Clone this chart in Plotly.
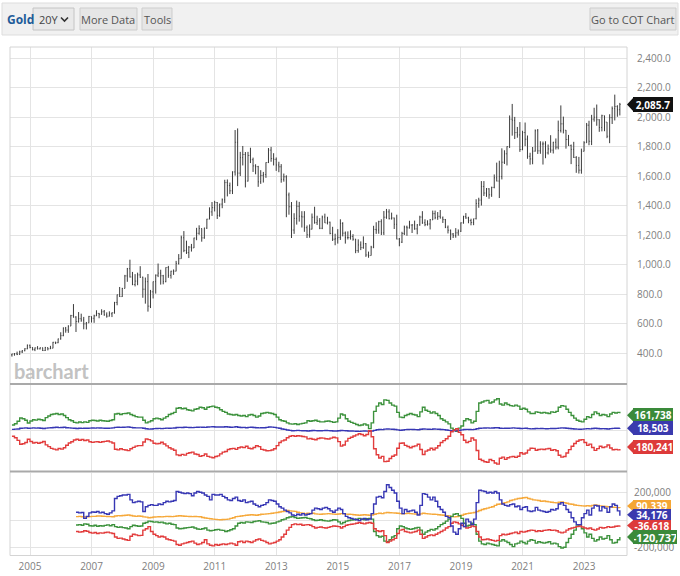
import plotly.graph_objects as go
import pandas as pd

# ---------------- data (monthly, first bar May 2004, last bar Feb 2024) ----------------
FIRST_MONTH = "2004-05-01"

OPEN = [
    388, 394, 395, 391, 408, 416, 429, 453,
    438, 423, 435, 429, 436, 417, 437, 429, 433, 473, 470, 496,
    518, 569, 556, 583, 654, 644, 614, 633, 624, 598, 605, 648,
    636, 652, 669, 663, 680, 659, 650, 666, 673, 743, 795, 783,
    838, 923, 972, 916, 865, 888, 930, 914, 833, 884, 718, 815,
    884, 928, 942, 924, 884, 980, 927, 955, 955, 1008, 1040, 1182,
    1096, 1081, 1118, 1113, 1180, 1212, 1244, 1181, 1247, 1308, 1357, 1386,
    1421, 1333, 1410, 1439, 1556, 1536, 1500, 1628, 1829, 1620, 1725, 1746,
    1566, 1740, 1711, 1669, 1664, 1561, 1604, 1610, 1692, 1776, 1719, 1713,
    1675, 1663, 1578, 1595, 1472, 1392, 1234, 1313, 1395, 1328, 1323, 1250,
    1202, 1240, 1321, 1284, 1296, 1246, 1322, 1282, 1287, 1211, 1172, 1175,
    1184, 1279, 1213, 1183, 1183, 1190, 1172, 1095, 1133, 1115, 1142, 1065,
    1061, 1118, 1238, 1234, 1291, 1215, 1321, 1357, 1311, 1316, 1273, 1173,
    1152, 1211, 1254, 1249, 1268, 1269, 1242, 1269, 1322, 1283, 1271, 1275,
    1303, 1345, 1318, 1327, 1316, 1305, 1253, 1233, 1207, 1196, 1215, 1226,
    1283, 1325, 1316, 1298, 1285, 1311, 1414, 1437, 1529, 1485, 1513, 1473,
    1523, 1588, 1566, 1596, 1694, 1751, 1800, 1986, 1978, 1895, 1879, 1780,
    1895, 1850, 1734, 1716, 1769, 1907, 1771, 1817, 1818, 1757, 1784, 1776,
    1829, 1796, 1909, 1954, 1911, 1848, 1807, 1781, 1726, 1672, 1640, 1768,
    1826, 1945, 1836, 1986, 1999, 1982, 1929, 2009, 1966, 1870, 1996, 2057,
    2072, 2050,
]
HIGH = [
    395, 400, 410, 416, 420, 433, 458, 457,
    440, 438, 447, 438, 437, 442, 438, 449, 476, 477, 498, 541,
    574, 577, 588, 659, 732, 650, 678, 667, 645, 611, 652, 649,
    660, 690, 672, 697, 692, 676, 683, 676, 747, 797, 848, 842,
    930, 977, 1033, 950, 935, 945, 989, 918, 912, 936, 828, 885,
    933, 1007, 965, 930, 981, 991, 958, 967, 1025, 1071, 1196, 1227,
    1162, 1126, 1140, 1182, 1249, 1266, 1245, 1250, 1310, 1388, 1424, 1432,
    1424, 1413, 1448, 1575, 1577, 1556, 1632, 1912, 1923, 1764, 1804, 1763,
    1764, 1792, 1725, 1680, 1669, 1640, 1628, 1693, 1790, 1798, 1755, 1726,
    1697, 1681, 1617, 1605, 1488, 1424, 1348, 1434, 1425, 1362, 1362, 1265,
    1272, 1346, 1392, 1331, 1315, 1332, 1345, 1324, 1291, 1256, 1209, 1240,
    1307, 1287, 1224, 1225, 1232, 1206, 1174, 1171, 1157, 1191, 1146, 1088,
    1127, 1263, 1287, 1297, 1307, 1363, 1377, 1375, 1352, 1318, 1338, 1180,
    1222, 1264, 1264, 1297, 1273, 1298, 1274, 1331, 1362, 1307, 1300, 1309,
    1366, 1366, 1356, 1370, 1326, 1309, 1265, 1237, 1214, 1247, 1238, 1286,
    1331, 1349, 1324, 1311, 1311, 1443, 1453, 1566, 1566, 1519, 1518, 1528,
    1611, 1691, 1704, 1788, 1775, 1802, 2011, 2089, 2001, 1933, 1966, 1907,
    1963, 1875, 1758, 1797, 1916, 1919, 1836, 1834, 1836, 1814, 1877, 1832,
    1855, 1976, 2079, 2003, 1912, 1879, 1814, 1832, 1735, 1730, 1786, 1836,
    1960, 1975, 2015, 2063, 2085, 1985, 2016, 2010, 1966, 2019, 2072, 2152,
    2080, 2096,
]
LOW = [
    376, 382, 386, 388, 400, 412, 426, 432,
    418, 413, 424, 424, 414, 414, 418, 427, 432, 461, 467, 491,
    514, 538, 537, 583, 640, 543, 606, 612, 561, 560, 605, 607,
    605, 651, 636, 660, 653, 640, 648, 644, 667, 724, 780, 781,
    838, 883, 912, 860, 852, 860, 910, 775, 735, 681, 705, 770,
    803, 915, 864, 866, 880, 910, 905, 930, 954, 1000, 1040, 1084,
    1072, 1044, 1088, 1112, 1165, 1202, 1155, 1175, 1242, 1307, 1330, 1360,
    1309, 1324, 1382, 1418, 1462, 1478, 1478, 1603, 1532, 1600, 1672, 1523,
    1563, 1688, 1628, 1612, 1527, 1547, 1556, 1588, 1688, 1697, 1672, 1635,
    1626, 1555, 1562, 1321, 1338, 1180, 1208, 1271, 1291, 1251, 1222, 1180,
    1182, 1238, 1277, 1268, 1240, 1240, 1282, 1272, 1205, 1160, 1131, 1142,
    1167, 1191, 1142, 1170, 1169, 1162, 1077, 1080, 1098, 1107, 1052, 1046,
    1061, 1111, 1208, 1209, 1200, 1200, 1310, 1306, 1305, 1241, 1171, 1124,
    1146, 1200, 1195, 1244, 1214, 1236, 1205, 1263, 1276, 1260, 1264, 1238,
    1302, 1307, 1303, 1312, 1282, 1247, 1211, 1167, 1180, 1182, 1196, 1221,
    1277, 1310, 1280, 1266, 1267, 1306, 1385, 1400, 1465, 1459, 1446, 1459,
    1517, 1564, 1451, 1577, 1682, 1672, 1790, 1874, 1851, 1860, 1764, 1775,
    1803, 1717, 1677, 1680, 1766, 1750, 1751, 1678, 1721, 1746, 1758, 1753,
    1780, 1781, 1895, 1889, 1786, 1805, 1681, 1723, 1622, 1617, 1616, 1767,
    1825, 1809, 1810, 1969, 1941, 1900, 1903, 1904, 1857, 1823, 1953, 1977,
    2002, 2011,
]
CLOSE = [
    394, 395, 391, 408, 416, 429, 453, 438,
    423, 435, 429, 436, 417, 437, 429, 433, 473, 470, 496, 518,
    569, 556, 583, 654, 644, 614, 633, 624, 598, 605, 648, 636,
    652, 669, 663, 680, 659, 650, 666, 673, 743, 795, 783, 838,
    923, 972, 916, 865, 888, 930, 914, 833, 884, 718, 815, 884,
    928, 942, 924, 884, 980, 927, 955, 955, 1008, 1040, 1182, 1096,
    1081, 1118, 1113, 1180, 1212, 1244, 1181, 1247, 1308, 1357, 1386, 1421,
    1333, 1410, 1439, 1556, 1536, 1500, 1628, 1829, 1620, 1725, 1746, 1566,
    1740, 1711, 1669, 1664, 1561, 1604, 1610, 1692, 1776, 1719, 1713, 1675,
    1663, 1578, 1595, 1472, 1392, 1234, 1313, 1395, 1328, 1323, 1250, 1202,
    1240, 1321, 1284, 1296, 1246, 1322, 1282, 1287, 1211, 1172, 1175, 1184,
    1279, 1213, 1183, 1183, 1190, 1172, 1095, 1133, 1115, 1142, 1065, 1061,
    1118, 1238, 1234, 1291, 1215, 1321, 1357, 1311, 1316, 1273, 1173, 1152,
    1211, 1254, 1249, 1268, 1269, 1242, 1269, 1322, 1283, 1271, 1275, 1303,
    1345, 1318, 1327, 1316, 1305, 1253, 1233, 1207, 1196, 1215, 1226, 1283,
    1325, 1316, 1298, 1285, 1311, 1414, 1437, 1529, 1485, 1513, 1473, 1523,
    1588, 1566, 1596, 1694, 1751, 1800, 1986, 1978, 1895, 1879, 1780, 1895,
    1850, 1734, 1716, 1769, 1907, 1771, 1817, 1818, 1757, 1784, 1776, 1829,
    1796, 1909, 1954, 1911, 1848, 1807, 1781, 1726, 1672, 1640, 1768, 1826,
    1945, 1836, 1986, 1999, 1982, 1929, 2009, 1966, 1870, 1996, 2057, 2072,
    2050, 2085.7,
]

# Legacy COT net positions, thousands of contracts (May 2004 .. Feb 2024)
NONCOMMERCIAL = [
    50, 62, 85, 117, 110, 95, 69, 88,
    100, 96, 104, 100, 92, 120, 135, 150, 155, 160, 150, 155,
    140, 120, 100, 90, 75, 70, 78, 72, 80, 75, 90, 95,
    92, 88, 95, 90, 88, 85, 92, 100, 155, 160, 150, 158,
    160, 165, 150, 140, 130, 125, 125, 95, 70, 80, 90, 110,
    115, 110, 100, 115, 130, 150, 160, 170, 210, 215, 205, 210,
    195, 190, 185, 200, 205, 220, 215, 200, 220, 225, 230, 220,
    215, 195, 180, 170, 155, 150, 145, 150, 140, 135, 140, 130,
    145, 150, 140, 125, 135, 160, 165, 170, 165, 160, 150, 125,
    100, 90, 85, 70, 60, 58, 62, 55, 60, 65, 70, 90,
    85, 90, 95, 85, 80, 80, 85, 88, 82, 75, 80, 115,
    155, 145, 110, 85, 75, 65, 55, 45, 50, 60, 50, 15,
    70, 180, 230, 260, 245, 290, 285, 260, 240, 230, 170, 125,
    120, 140, 150, 160, 150, 145, 130, 175, 220, 190, 180, 165,
    175, 160, 140, 110, 95, 80, 60, 20, 5, -10, 20, 40,
    90, 110, 100, 70, 85, 180, 260, 270, 280, 285, 260, 270,
    290, 300, 250, 240, 260, 245, 235, 230, 240, 230, 200, 210,
    200, 175, 160, 160, 175, 170, 165, 170, 165, 160, 175, 170,
    180, 220, 235, 230, 200, 170, 140, 115, 95, 85, 80, 105,
    130, 120, 150, 175, 160, 140, 150, 145, 130, 155, 170, 165,
    170, 161.738,
]
COMMERCIAL = [
    -58, -72, -97, -135, -130, -117, -87, -108,
    -122, -116, -125, -118, -108, -140, -157, -174, -181, -188, -175, -181,
    -168, -144, -122, -110, -93, -86, -96, -89, -99, -93, -110, -116,
    -112, -110, -116, -110, -107, -103, -112, -122, -182, -188, -177, -186,
    -189, -195, -177, -164, -152, -147, -147, -113, -84, -90, -102, -125,
    -131, -127, -115, -132, -150, -168, -180, -191, -236, -242, -231, -238,
    -222, -216, -210, -227, -233, -249, -243, -227, -250, -257, -263, -251,
    -245, -226, -210, -203, -185, -178, -174, -183, -168, -161, -167, -154,
    -172, -178, -166, -149, -157, -183, -189, -197, -195, -189, -177, -147,
    -118, -102, -93, -72, -58, -52, -58, -53, -56, -60, -64, -83,
    -79, -87, -91, -80, -74, -76, -82, -84, -76, -67, -73, -109,
    -152, -141, -104, -78, -67, -56, -45, -34, -41, -53, -41, -5,
    -62, -178, -234, -266, -250, -300, -297, -270, -249, -237, -173, -125,
    -122, -145, -156, -168, -156, -150, -134, -184, -232, -200, -189, -173,
    -187, -170, -149, -117, -100, -82, -58, -15, 1, 14, -19, -43,
    -96, -118, -107, -75, -93, -194, -278, -290, -301, -307, -280, -291,
    -313, -324, -268, -257, -279, -263, -255, -252, -260, -249, -216, -227,
    -218, -190, -173, -174, -191, -185, -181, -185, -179, -175, -191, -186,
    -197, -240, -257, -251, -218, -186, -154, -127, -105, -94, -90, -118,
    -145, -133, -166, -193, -176, -154, -165, -159, -142, -170, -187, -183,
    -188, -180.241,
]
NONREPORTABLE = [
    8, 10, 12, 18, 20, 22, 18, 20,
    22, 20, 21, 18, 16, 20, 22, 24, 26, 28, 25, 26,
    28, 24, 22, 20, 18, 16, 18, 17, 19, 18, 20, 21,
    20, 22, 21, 20, 19, 18, 20, 22, 27, 28, 27, 28,
    29, 30, 27, 24, 22, 22, 22, 18, 14, 10, 12, 15,
    16, 17, 15, 17, 20, 18, 20, 21, 26, 27, 26, 28,
    27, 26, 25, 27, 28, 29, 28, 27, 30, 32, 33, 31,
    30, 31, 30, 33, 30, 28, 29, 33, 28, 26, 27, 24,
    27, 28, 26, 24, 22, 23, 24, 27, 30, 29, 27, 22,
    18, 12, 8, 2, -2, -6, -4, -2, -4, -5, -6, -7,
    -6, -3, -4, -5, -6, -4, -3, -4, -6, -8, -7, -6,
    -3, -4, -6, -7, -8, -9, -10, -11, -9, -7, -9, -10,
    -8, -2, 4, 6, 5, 10, 12, 10, 9, 7, 3, 0,
    2, 5, 6, 8, 6, 5, 4, 9, 12, 10, 9, 8,
    12, 10, 9, 7, 5, 2, -2, -5, -6, -4, -1, 3,
    6, 8, 7, 5, 8, 14, 18, 20, 21, 22, 20, 21,
    23, 24, 18, 17, 19, 18, 20, 22, 20, 19, 16, 17,
    18, 15, 13, 14, 16, 15, 16, 15, 14, 15, 16, 16,
    17, 20, 22, 21, 18, 16, 14, 12, 10, 9, 10, 13,
    15, 13, 16, 18, 16, 14, 15, 14, 12, 15, 17, 18,
    18, 18.503,
]

# Disaggregated COT net positions, thousands of contracts (Jun 2006 .. Feb 2024)
MANAGED_MONEY = [
    60, 55, 58, 15, 30, 55, 62,
    60, 65, 55, 60, 50, 45, 55, 70, 160, 175, 180, 185,
    185, 190, 150, 130, 135, 140, 135, 65, 100, 110, 115, 110,
    110, 120, 115, 130, 140, 135, 140, 145, 210, 205, 200, 195,
    200, 195, 180, 200, 210, 205, 200, 185, 175, 150, 190, 185,
    185, 190, 175, 165, 150, 145, 160, 170, 145, 140, 150, 130,
    135, 140, 120, 110, 100, 110, 115, 130, 150, 145, 140, 120,
    100, 90, 75, 65, 55, 40, 35, 45, 40, 50, 40, 45,
    50, 75, 90, 85, 80, 90, 95, 85, 70, 60, 75, 90,
    80, 50, 30, 20, 15, 10, 5, 0, 10, 15, 5, 10,
    50, 120, 170, 175, 165, 210, 260, 240, 220, 200, 140, 90,
    50, 80, 65, 70, 75, 60, 40, 110, 195, 190, 170, 150,
    170, 140, 100, 80, 60, 30, 20, -40, -85, -100, -60, -20,
    -45, 10, -10, -30, 10, 130, 220, 215, 210, 200, 205, 200,
    210, 200, 150, 120, 110, 105, 115, 120, 100, 105, 80, 95,
    100, 70, 65, 70, 95, 75, 70, 65, 60, 65, 80, 75,
    85, 120, 130, 110, 80, 60, 20, -10, -30, -30, 20, 50,
    75, 40, 90, 110, 105, 70, 100, 90, 60, 100, 120, 110,
    70, 34.176,
]
OTHER_REPORTABLES = [
    28, 30, 27, 25, 26, 28, 30,
    30, 32, 33, 31, 30, 29, 28, 27, 32, 35, 34, 36,
    38, 40, 36, 32, 30, 32, 31, 26, 24, 20, 22, 25,
    26, 27, 26, 28, 30, 29, 28, 30, 33, 34, 32, 31,
    30, 29, 28, 29, 28, 27, 22, 18, 15, 12, 10, 8,
    6, 5, 7, 8, 10, 15, 20, 28, 30, 32, 35, 38,
    40, 42, 40, 38, 42, 45, 46, 48, 50, 52, 55, 58,
    62, 65, 68, 72, 70, 68, 66, 60, 55, 52, 50, 52,
    50, 52, 48, 46, 45, 47, 48, 50, 48, 46, 45, 47,
    50, 48, 46, 45, 44, 42, 40, 38, 40, 42, 40, 38,
    40, 45, 50, 52, 50, 55, 58, 56, 55, 54, 52, 50,
    48, 50, 52, 50, 48, 47, 45, 48, 52, 50, 48, 46,
    45, 44, 42, 40, 38, 35, 32, 28, 26, 28, 32, 38,
    45, 50, 52, 55, 58, 65, 72, 80, 85, 90, 95, 100,
    110, 118, 120, 125, 130, 135, 145, 150, 155, 160, 162, 165,
    168, 160, 155, 150, 148, 145, 140, 142, 138, 135, 132, 130,
    128, 132, 135, 130, 125, 120, 118, 112, 110, 108, 106, 105,
    108, 105, 110, 112, 110, 106, 104, 102, 100, 98, 96, 95,
    93, 90.339,
]
PRODUCER_MERCHANT = [
    -33, -30, -35, -25, -28, -38, -40,
    -35, -42, -38, -40, -36, -32, -38, -30, -45, -50, -48, -52,
    -55, -60, -45, -35, -38, -42, -40, -20, -15, -5, -8, -12,
    -10, -15, -12, -18, -25, -20, -28, -30, -55, -60, -58, -55,
    -52, -50, -48, -55, -62, -65, -60, -55, -70, -75, -72, -68,
    -65, -70, -72, -80, -75, -68, -60, -40, -20, -15, -18, -10,
    -12, -15, -8, -5, -2, -10, -12, -15, -25, -20, -18, -10,
    -5, 5, 10, 20, 25, 28, 22, 15, 18, 20, 22, 15,
    12, 5, 0, 2, 5, 0, -3, -5, 0, 5, 3, -10,
    -25, -15, -5, 0, 3, 5, 10, 15, 10, 5, 12, 15,
    10, -80, -110, -120, -115, -150, -155, -140, -120, -110, -60, -40,
    -45, -55, -60, -65, -60, -55, -50, -70, -100, -85, -75, -65,
    -70, -60, -45, -30, -20, -5, 10, 30, 45, 50, 35, 15,
    -20, -40, -35, -20, -30, -100, -150, -170, -175, -165, -170, -175,
    -180, -185, -150, -140, -150, -160, -175, -190, -170, -165, -150, -160,
    -170, -150, -140, -145, -165, -155, -160, -165, -160, -155, -170, -165,
    -170, -190, -200, -195, -160, -130, -100, -70, -40, -30, -60, -90,
    -120, -100, -130, -150, -140, -120, -135, -130, -110, -140, -165, -160,
    -140, -120.737,
]
SWAP_DEALERS = [
    -80, -85, -82, -75, -78, -88, -92,
    -88, -95, -90, -92, -88, -85, -90, -95, -120, -130, -128, -135,
    -140, -145, -115, -100, -105, -110, -108, -70, -60, -45, -80, -100,
    -110, -120, -115, -120, -135, -140, -145, -150, -175, -180, -170, -165,
    -160, -155, -150, -165, -175, -170, -160, -140, -170, -180, -185, -175,
    -180, -175, -170, -175, -170, -165, -170, -180, -155, -150, -160, -150,
    -155, -160, -150, -140, -135, -145, -150, -160, -170, -165, -160, -150,
    -140, -120, -100, -70, -50, -30, -25, -30, -28, -35, -32, -30,
    -35, -45, -55, -50, -48, -52, -55, -50, -45, -40, -42, -45,
    -55, -45, -35, -30, -28, -25, -20, -15, -20, -25, -18, -15,
    -20, -60, -75, -80, -75, -110, -160, -150, -140, -130, -95, -70,
    -65, -80, -85, -90, -85, -80, -70, -100, -130, -120, -110, -105,
    -110, -100, -90, -80, -70, -55, -45, -20, -10, -15, -25, -35,
    -45, -55, -50, -40, -45, -80, -120, -140, -138, -135, -140, -145,
    -150, -145, -110, -100, -105, -100, -95, -90, -85, -95, -80, -85,
    -80, -75, -70, -72, -80, -75, -78, -72, -70, -68, -72, -70,
    -75, -85, -90, -85, -70, -60, -55, -50, -45, -40, -48, -55,
    -60, -55, -65, -70, -62, -50, -55, -52, -45, -50, -48, -42,
    -40, -36.618,
]

YEAR_TICKS = ["2005", "2007", "2009", "2011", "2013", "2015", "2017", "2019", "2021", "2023"]
PRICE_TICKS = [400, 600, 800, 1000, 1200, 1400, 1600, 1800, 2000, 2200, 2400]
COT_TICKS = [-200000, 0, 200000]

# ---------------- styling / geometry ----------------
W, H = 680, 576
FONT = "Open Sans"
GRID = "#e4e4e4"
AXIS_TXT = "#808080"
GREEN, BLUE, RED, ORANGE = "#3d923d", "#3737b4", "#e23c3c", "#f6a93b"
GREEN_BOX, BLUE_BOX, RED_BOX, ORANGE_BOX = "#3a8a3a", "#3a3aae", "#dd3a3a", "#f5a634"
L_PX, R_PX = 10, 627


def px(x):
    return x / W


def py(y):
    return 1 - y / H


dates = pd.date_range(FIRST_MONTH, periods=len(CLOSE), freq="MS") + pd.offsets.MonthEnd(0)


def tail_dates(series):
    return dates[-len(series):]


def k(series):
    return [v * 1000 for v in series]


fig = go.Figure()

fig.add_trace(go.Ohlc(
    x=dates, open=OPEN, high=HIGH, low=LOW, close=CLOSE,
    xaxis="x", yaxis="y", tickwidth=0.3,
    increasing=dict(line=dict(color="#3c3c3c", width=1)),
    decreasing=dict(line=dict(color="#3c3c3c", width=1)),
    showlegend=False, hoverinfo="skip",
))

for series, color in [(NONCOMMERCIAL, GREEN), (NONREPORTABLE, BLUE), (COMMERCIAL, RED)]:
    fig.add_trace(go.Scatter(
        x=tail_dates(series), y=k(series), mode="lines", line=dict(color=color, width=1.4, shape="hv"),
        xaxis="x2", yaxis="y2", showlegend=False, hoverinfo="skip",
    ))

for series, color in [(OTHER_REPORTABLES, ORANGE), (PRODUCER_MERCHANT, GREEN), (SWAP_DEALERS, RED), (MANAGED_MONEY, BLUE)]:
    fig.add_trace(go.Scatter(
        x=tail_dates(series), y=k(series), mode="lines", line=dict(color=color, width=1.4, shape="hv"),
        xaxis="x3", yaxis="y3", showlegend=False, hoverinfo="skip",
    ))

xrange_ = ["2004-05-08", "2024-05-24"]
year_vals = [f"{y}-01-01" for y in YEAR_TICKS]
xcommon = dict(
    type="date", range=xrange_, domain=[px(L_PX), px(R_PX)],
    tickvals=year_vals, ticktext=YEAR_TICKS,
    showgrid=True, gridcolor=GRID, gridwidth=1, zeroline=False, showline=False,
    ticks="", fixedrange=True, rangeslider=dict(visible=False),
)

fig.update_layout(
    width=W, height=H, margin=dict(l=0, r=0, t=0, b=0),
    paper_bgcolor="white", plot_bgcolor="white",
    font=dict(family=FONT, color=AXIS_TXT, size=10),
    hovermode=False, showlegend=False,
    xaxis=dict(xcommon, anchor="y", showticklabels=False),
    xaxis2=dict(xcommon, anchor="y2", showticklabels=False),
    xaxis3=dict(xcommon, anchor="y3", showticklabels=True,
                tickfont=dict(size=10, color=AXIS_TXT, family=FONT), ticklabelstandoff=4),
    yaxis=dict(
        domain=[py(383), py(47)], range=[197, 2475], anchor="x", side="right",
        tickvals=PRICE_TICKS, ticktext=[f"{v:,.1f}" for v in PRICE_TICKS],
        showgrid=True, gridcolor=GRID, zeroline=False, showline=False, ticks="",
        ticklabelstandoff=9, tickfont=dict(size=10, color=AXIS_TXT), fixedrange=True,
    ),
    yaxis2=dict(
        domain=[py(471), py(385)], range=[-390000, 432000], anchor="x2", side="right",
        tickvals=[0], showticklabels=False, showgrid=True, gridcolor=GRID,
        zeroline=False, showline=False, ticks="", fixedrange=True,
    ),
    yaxis3=dict(
        domain=[py(555), py(473)], range=[-251000, 345000], anchor="x3", side="right",
        tickvals=COT_TICKS, ticktext=[f"{v:,}" if v else "" for v in COT_TICKS],
        showgrid=True, gridcolor=GRID, zeroline=False, showline=False, ticks="",
        ticklabelstandoff=6, tickfont=dict(size=10, color=AXIS_TXT), fixedrange=True,
    ),
)

shapes = []
annotations = []

# ---- toolbar ----
shapes.append(dict(type="rect", xref="paper", yref="paper", x0=px(2), x1=px(678), y0=py(35), y1=py(3),
                   fillcolor="#f1f1f1", line=dict(color="#dddddd", width=1), layer="above"))
annotations.append(dict(xref="paper", yref="paper", x=px(5), y=py(19.5), xanchor="left", yanchor="middle",
                        text="<b>Gold</b>", showarrow=False, font=dict(size=12, color="#1f5c99", family=FONT)))


def button(x0, x1, label, fill="#e6e6e6"):
    shapes.append(dict(type="rect", xref="paper", yref="paper", x0=px(x0), x1=px(x1), y0=py(30), y1=py(8),
                       fillcolor=fill, line=dict(color="#cdcdcd", width=1), layer="above"))
    annotations.append(dict(xref="paper", yref="paper", x=px((x0 + x1) / 2), y=py(19.5), xanchor="center",
                            yanchor="middle", text=label, showarrow=False,
                            font=dict(size=11, color="#555555", family=FONT)))


shapes.append(dict(type="rect", xref="paper", yref="paper", x0=px(33), x1=px(74), y0=py(30), y1=py(8),
                   fillcolor="#e9e9e9", line=dict(color="#c4c4c4", width=1), layer="above"))
annotations.append(dict(xref="paper", yref="paper", x=px(37), y=py(19.5), xanchor="left", yanchor="middle",
                        text="20Y", showarrow=False, font=dict(size=11, color="#444444", family=FONT)))
shapes.append(dict(type="path", xref="paper", yref="paper",
                   path=f"M {px(61)},{py(17.5)} L {px(64.5)},{py(21)} L {px(68)},{py(17.5)}",
                   line=dict(color="#333333", width=1.6), layer="above"))
button(80, 137, "More Data")
button(142, 172, "Tools")
button(590, 676, "Go to COT Chart")

# ---- frame and panel separators ----
shapes.append(dict(type="rect", xref="paper", yref="paper", x0=px(L_PX), x1=px(R_PX), y0=py(555.5), y1=py(47),
                   line=dict(color="#d4d4d4", width=1), layer="above"))
for ysep in (384, 471.5):
    shapes.append(dict(type="line", xref="paper", yref="paper", x0=px(L_PX), x1=px(R_PX), y0=py(ysep), y1=py(ysep),
                       line=dict(color="#a9a9a9", width=2), layer="above"))

# watermark
annotations.append(dict(xref="paper", yref="paper", x=px(12), y=py(371), xanchor="left", yanchor="middle",
                        text="<b>barchart</b>", showarrow=False,
                        font=dict(size=20, color="#c2c2c2", family="Lato")))


# ---- last-value labels ----
def value_label(yref, value, text, color, shift=0, w=38, h=12, size=10):
    shapes.append(dict(type="path", xref="paper", yref=yref, xsizemode="pixel", ysizemode="pixel",
                       xanchor=px(R_PX), yanchor=value,
                       path=f"M 0 {shift} L 7 {shift + h / 2 + 1} L 7 {shift - h / 2 - 1} Z",
                       fillcolor=color, line=dict(width=0), layer="above"))
    annotations.append(dict(xref="paper", yref=yref, x=px(R_PX + 6), xanchor="left", y=value, yshift=shift,
                            yanchor="middle", text=f"<b>{text}</b>", showarrow=False,
                            font=dict(color="white", size=size, family=FONT), bgcolor=color,
                            width=w, height=h, borderpad=0, borderwidth=1, bordercolor=color, align="center"))


last_price = CLOSE[-1]
value_label("y", last_price, f"{last_price:,.1f}", "#111111", 0, w=38, h=13)

value_label("y2", NONCOMMERCIAL[-1] * 1000, f"{round(NONCOMMERCIAL[-1] * 1000):,}", GREEN_BOX, -2)
value_label("y2", NONREPORTABLE[-1] * 1000, f"{round(NONREPORTABLE[-1] * 1000):,}", BLUE_BOX, 0)
value_label("y2", COMMERCIAL[-1] * 1000, f"{round(COMMERCIAL[-1] * 1000):,}", RED_BOX, 2)

value_label("y3", OTHER_REPORTABLES[-1] * 1000, f"{round(OTHER_REPORTABLES[-1] * 1000):,}", ORANGE_BOX, 2, w=36, h=10)
value_label("y3", MANAGED_MONEY[-1] * 1000, f"{round(MANAGED_MONEY[-1] * 1000):,}", BLUE_BOX, 1, w=36, h=10)
value_label("y3", SWAP_DEALERS[-1] * 1000, f"{round(SWAP_DEALERS[-1] * 1000):,}", RED_BOX, 0, w=36, h=10)
value_label("y3", PRODUCER_MERCHANT[-1] * 1000, f"{round(PRODUCER_MERCHANT[-1] * 1000):,}", GREEN_BOX, 0, w=42, h=12,
            size=11)

fig.update_layout(shapes=shapes, annotations=annotations)

fig.write_html("out.html")
